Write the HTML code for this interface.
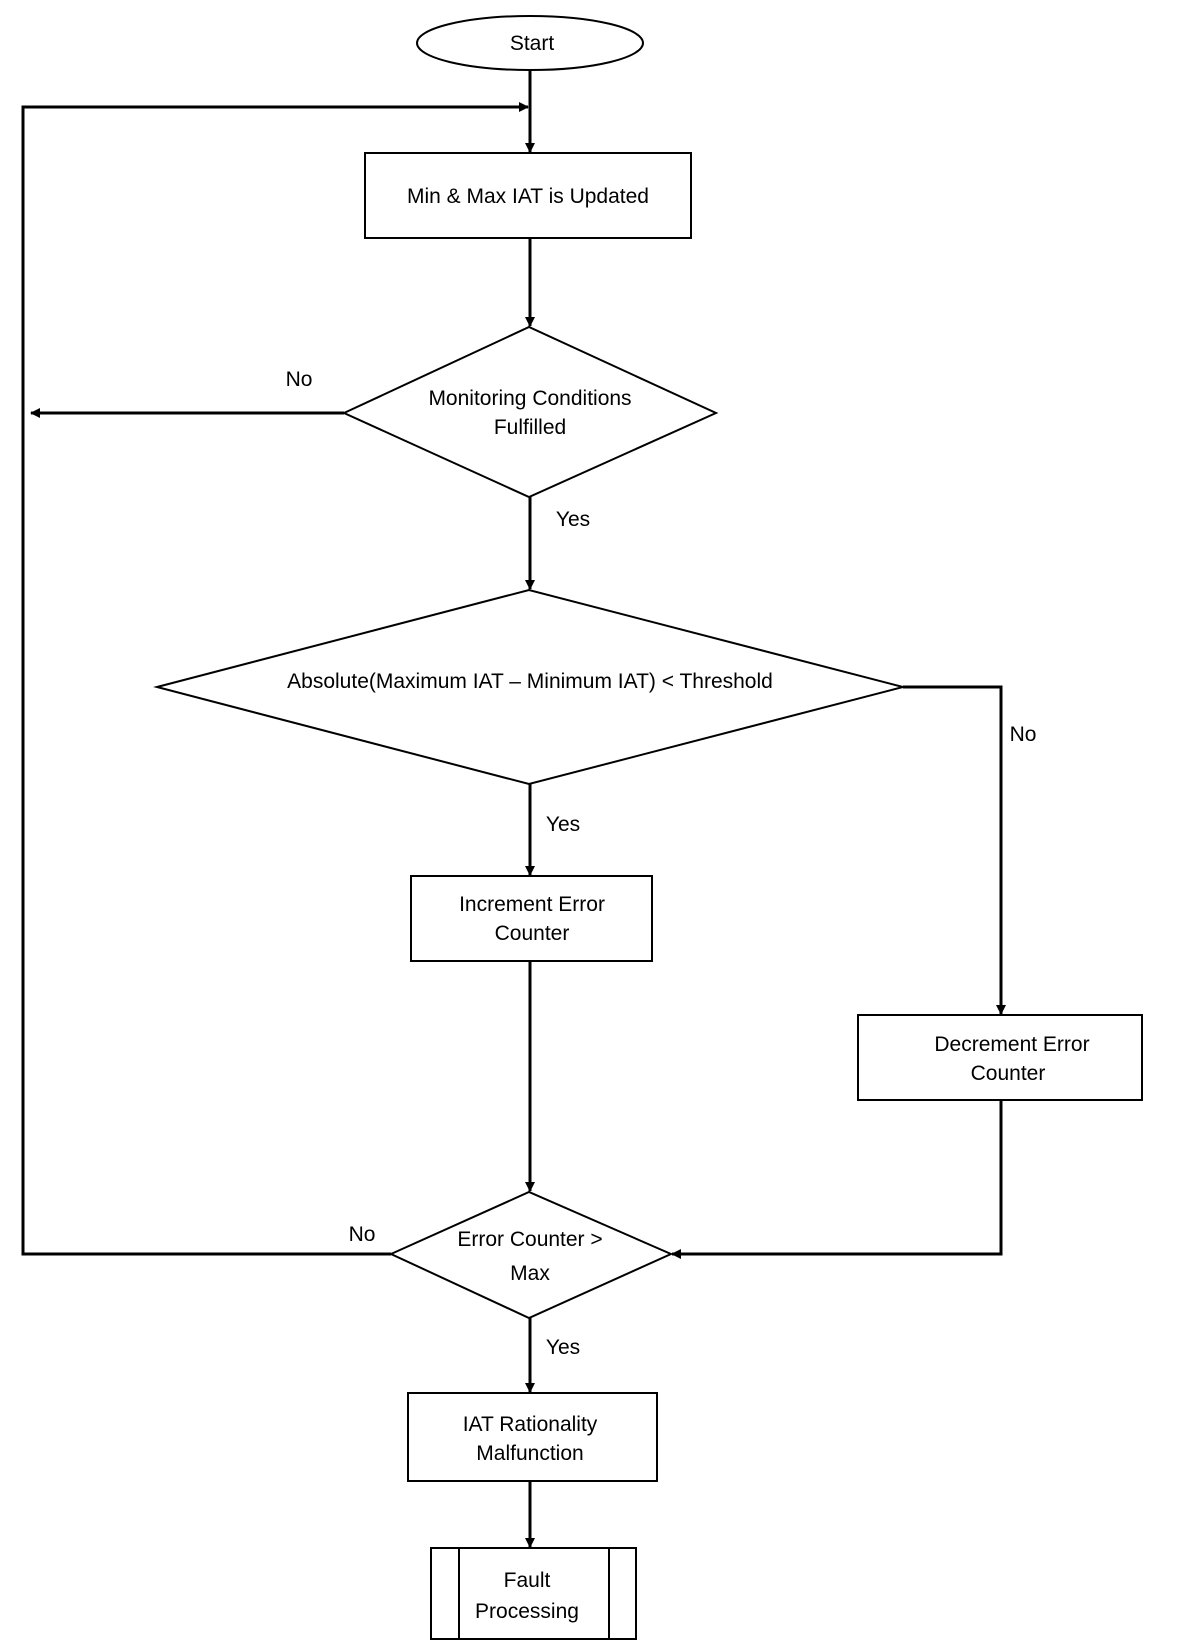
<!DOCTYPE html>
<html><head><meta charset="utf-8"><style>
html,body{margin:0;padding:0;background:#fff;}
svg{display:block;}
text{font-family:"Liberation Sans",sans-serif;font-size:21px;fill:#000;text-anchor:middle;}
</style></head><body>
<svg width="1184" height="1648" viewBox="0 0 1184 1648" xmlns="http://www.w3.org/2000/svg">
<defs>
<marker id="a" markerWidth="10" markerHeight="10" refX="9" refY="5" orient="auto" markerUnits="userSpaceOnUse">
<path d="M0,0 L10,5 L0,10 z" fill="#000"/></marker>
</defs>
<g fill="none" stroke="#000" stroke-width="2">
<ellipse cx="530" cy="43" rx="113" ry="27"/>
<rect x="365" y="153" width="326" height="85"/>
<polygon points="344,413 529,327 716,413 529,497"/>
<polygon points="157,687 529,590 903,687 529,784"/>
<rect x="411" y="876" width="241" height="85"/>
<rect x="858" y="1015" width="284" height="85"/>
<polygon points="391,1254 529,1192 671,1254 529,1318"/>
<rect x="408" y="1393" width="249" height="88"/>
<rect x="431" y="1548" width="205" height="91"/>
<line x1="459" y1="1548" x2="459" y2="1639"/>
<line x1="609" y1="1548" x2="609" y2="1639"/>
</g>
<g fill="none" stroke="#000" stroke-width="3">
<line x1="530" y1="70" x2="530" y2="152" marker-end="url(#a)"/>
<polyline points="391,1254 23,1254 23,107 528,107" marker-end="url(#a)"/>
<line x1="530" y1="238" x2="530" y2="326" marker-end="url(#a)"/>
<line x1="344" y1="413" x2="31" y2="413" marker-end="url(#a)"/>
<line x1="530" y1="497" x2="530" y2="589" marker-end="url(#a)"/>
<line x1="530" y1="784" x2="530" y2="875" marker-end="url(#a)"/>
<polyline points="903,687 1001,687 1001,1014" marker-end="url(#a)"/>
<line x1="530" y1="961" x2="530" y2="1191" marker-end="url(#a)"/>
<polyline points="1001,1100 1001,1254 672,1254" marker-end="url(#a)"/>
<line x1="530" y1="1318" x2="530" y2="1392" marker-end="url(#a)"/>
<line x1="530" y1="1481" x2="530" y2="1547" marker-end="url(#a)"/>
</g>
<text x="532" y="50">Start</text>
<text x="528" y="203">Min &amp; Max IAT is Updated</text>
<text x="530" y="405">Monitoring Conditions</text>
<text x="530" y="434">Fulfilled</text>
<text x="530" y="688">Absolute(Maximum IAT – Minimum IAT) &lt; Threshold</text>
<text x="532" y="911">Increment Error</text>
<text x="532" y="940">Counter</text>
<text x="1012" y="1051">Decrement Error</text>
<text x="1008" y="1080">Counter</text>
<text x="530" y="1246">Error Counter &gt;</text>
<text x="530" y="1280">Max</text>
<text x="530" y="1431">IAT Rationality</text>
<text x="530" y="1460">Malfunction</text>
<text x="527" y="1587">Fault</text>
<text x="527" y="1618">Processing</text>
<text x="299" y="386">No</text>
<text x="573" y="526">Yes</text>
<text x="1023" y="741">No</text>
<text x="563" y="831">Yes</text>
<text x="362" y="1241">No</text>
<text x="563" y="1354">Yes</text>
</svg>
</body></html>
